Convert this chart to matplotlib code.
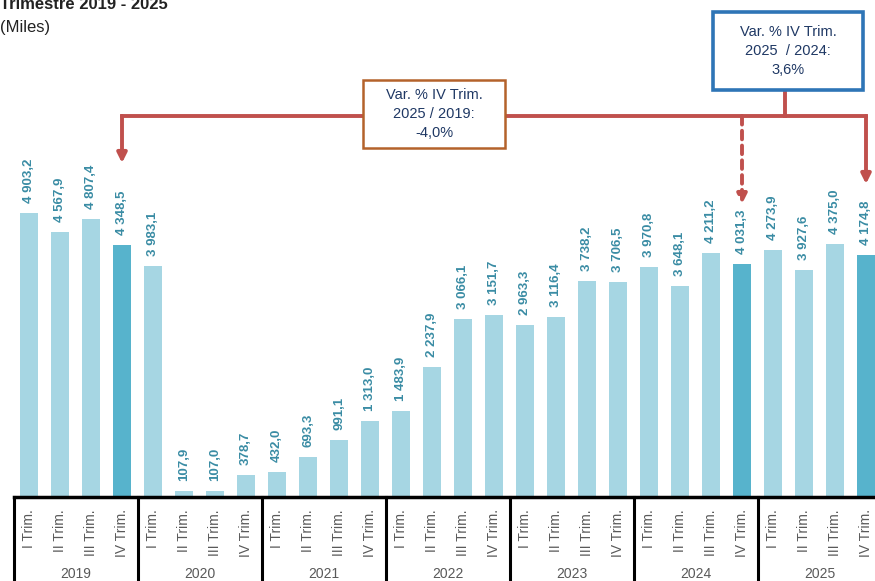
import matplotlib
matplotlib.use('Agg')
import matplotlib.pyplot as plt
from matplotlib.patches import Rectangle

plt.rcParams['font.family'] = ['Liberation Sans', 'DejaVu Sans']

# Data
years = ['2019', '2020', '2021', '2022', '2023', '2024', '2025']
quarters = ['I Trim.', 'II Trim.', 'III Trim.', 'IV Trim.']
values = [4903.2, 4567.9, 4807.4, 4348.5,
          3983.1, 107.9, 107.0, 378.7,
          432.0, 693.3, 991.1, 1313.0,
          1483.9, 2237.9, 3066.1, 3151.7,
          2963.3, 3116.4, 3738.2, 3706.5,
          3970.8, 3648.1, 4211.2, 4031.3,
          4273.9, 3927.6, 4375.0, 4174.8]
highlight = [3, 23, 27]  # IV Trim. 2019, 2024, 2025

light = '#A6D6E3'
dark = '#57B3CC'
label_col = '#3A8CA4'
red = '#C0504D'
navy = '#1F3864'

W, H = 875, 581
fig = plt.figure(figsize=(W / 100, H / 100), dpi=100)
base_px = 497
ax = fig.add_axes([0, 1 - base_px / H, 1, base_px / H])

ymax = 8583
x0_px, step_px = 29, 31
ax.set_xlim(-x0_px / step_px, (W - x0_px) / step_px)
ax.set_ylim(0, ymax)
ax.axis('off')


def py(p):
    # pixel row (from top of figure) -> data y
    return (base_px - p) * ymax / base_px


def px(p):
    return (p - x0_px) / step_px


n = len(values)
colors = [dark if i in highlight else light for i in range(n)]
ax.bar(range(n), values, width=0.6, color=colors, zorder=2)

for i, v in enumerate(values):
    txt = f'{v:,.1f}'.replace(',', ' ').replace('.', ',')
    ax.text(i, v + py(base_px - 10), txt, rotation=90, ha='center', va='bottom',
            fontsize=9.5, fontweight='bold', color=label_col)

# Bottom axis line and year boxes
ax.plot([-0.5, n - 0.5], [0, 0], color='black', lw=2.5, clip_on=False, zorder=3)
bottom = -(H - base_px) / base_px
for k in range(len(years) + 1):
    xs = k * 4 - 0.5
    ax.plot([xs, xs], [0, bottom * ymax], color='black', lw=2.2, clip_on=False)

for i in range(n):
    ax.text(i, py(509), quarters[i % 4], rotation=90, ha='center', va='top',
            fontsize=10, color='#595959')
for k, yr in enumerate(years):
    ax.text(k * 4 + 1.5, py(574), yr, ha='center', va='center',
            fontsize=10, color='#595959')

# Annotation lines
line_y = py(116)
ax.plot([3, 27], [line_y, line_y], color=red, lw=2.8, zorder=4)
arrow = dict(arrowstyle='-|>', color=red, lw=2.8, mutation_scale=14,
             shrinkA=0, shrinkB=0)
ax.annotate('', xy=(3, py(163)), xytext=(3, line_y), arrowprops=arrow, zorder=4)
ax.annotate('', xy=(27, py(184)), xytext=(27, line_y), arrowprops=arrow, zorder=4)
dashed = dict(arrow, linestyle=(0, (2.2, 1.6)))
ax.annotate('', xy=(23, py(204)), xytext=(23, line_y), arrowprops=dashed, zorder=4)
ax.plot([px(785), px(785)], [py(90), line_y], color=red, lw=2.8, zorder=4)

# Boxes
ax.add_patch(Rectangle((px(363), py(148)), px(505) - px(363), py(80) - py(148),
                       facecolor='white', edgecolor='#B4622B', lw=1.8,
                       zorder=5, clip_on=False))
ax.text((px(363) + px(505)) / 2, py(114), 'Var. % IV Trim.\n2025 / 2019:\n-4,0%',
        ha='center', va='center', fontsize=10.5, color=navy, linespacing=1.45,
        zorder=6)
ax.add_patch(Rectangle((px(713), py(90)), px(863) - px(713), py(12) - py(90),
                       facecolor='white', edgecolor='#2E75B6', lw=2.6,
                       zorder=5, clip_on=False))
ax.text((px(713) + px(863)) / 2, py(51), 'Var. % IV Trim.\n2025  / 2024:\n3,6%',
        ha='center', va='center', fontsize=10.5, color=navy, linespacing=1.45,
        zorder=6)

# Title (partly cut at the top edge, as in the source)
fig.text(0, 1 - 9 / H, 'Trimestre 2019 - 2025', ha='left', va='baseline',
         fontsize=12, fontweight='bold', color='#222222')
fig.text(0, 1 - 32 / H, '(Miles)', ha='left', va='baseline',
         fontsize=12, color='#222222')

fig.savefig('out.png', dpi=100)
